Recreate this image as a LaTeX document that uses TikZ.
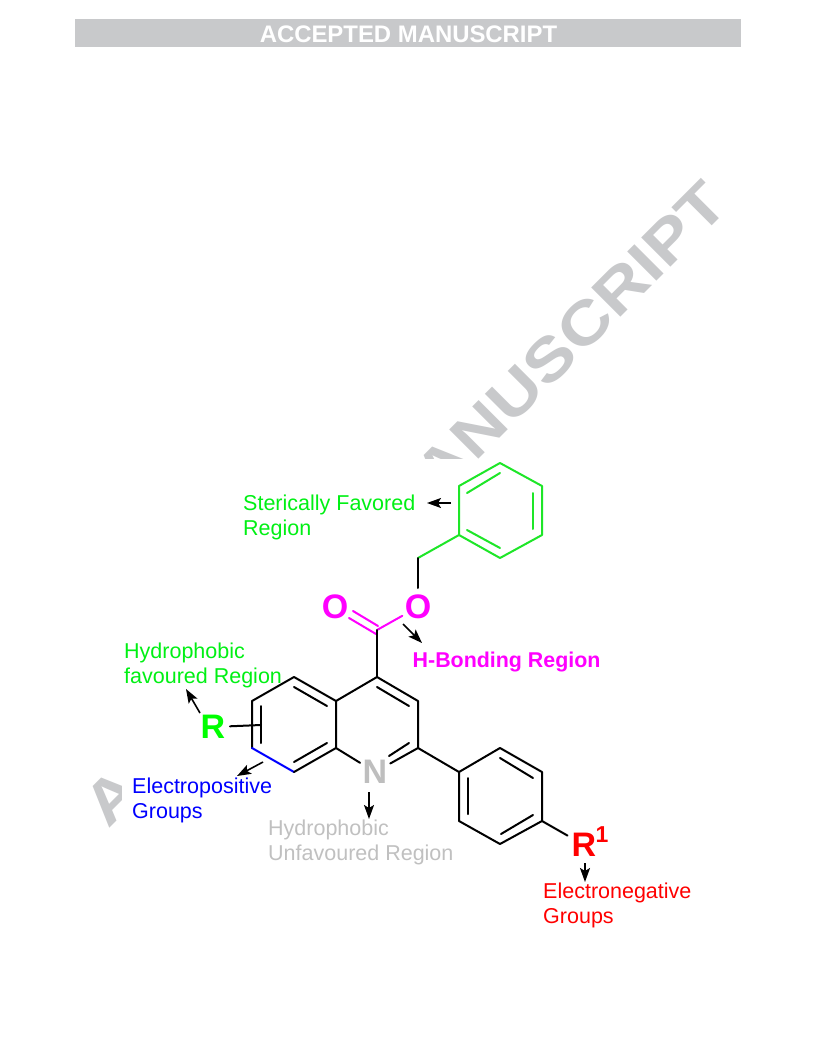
\documentclass[tikz,border=0pt]{standalone}
\usepackage{fontspec}
\setmainfont{Liberation Sans}
\usetikzlibrary{arrows.meta}
\definecolor{wmgray}{RGB}{200,201,203}
\definecolor{ngray}{RGB}{190,190,190}
\definecolor{lblgray}{RGB}{192,192,192}
\definecolor{hgreen}{RGB}{0,240,20}
\definecolor{ringgreen}{RGB}{30,230,40}
\definecolor{hmag}{RGB}{255,0,255}
\tikzset{
  bond/.style={line width=2pt,line cap=round,line join=round,black},
  gbond/.style={bond,draw=ringgreen},
  mbond/.style={bond,draw=hmag},
  bbond/.style={bond,draw=blue},
  ptr/.style={line width=1.6pt,black,-{Stealth[length=14pt,width=10pt,inset=3pt]}},
  lbl/.style={inner sep=0pt,anchor=base west,align=left,font=\fontsize{21.5}{25}\selectfont},
  atomlbl/.style={inner sep=0pt,font=\fontsize{34}{34}\selectfont\bfseries},
}
\begin{document}
\begin{tikzpicture}[x=1pt,y=-1pt]
\useasboundingbox (0,0) rectangle (816,1056);
\fill[white] (0,0) rectangle (816,1056);
% banner
\node[fill=wmgray,minimum width=666pt,minimum height=28pt,inner sep=0pt] (banner) at (408,33.5) {};
\node[inner sep=0pt,white,font=\fontsize{23.9}{24}\selectfont\bfseries] (bantext) at (408.5,34) {ACCEPTED MANUSCRIPT};
% watermark, mostly hidden by the figure
\node[inner sep=0pt,anchor=base,rotate=45,xscale=1.18,transform shape,wmgray,font=\fontsize{60}{60}\selectfont\bfseries] (wm) at (420,518) {ACCEPTED MANUSCRIPT};
\fill[white] (122,459) rectangle (816,1056);
% atoms
\coordinate (P1) at (500,463);\coordinate (P2) at (542,486);\coordinate (P3) at (542,535);
\coordinate (P4) at (500,558);\coordinate (P5) at (459,535);\coordinate (P6) at (459,486);
\coordinate (P1i) at (500,473);\coordinate (P6i) at (467,493);
\coordinate (P2i) at (533,493);\coordinate (P3i) at (533,529);
\coordinate (P5i) at (467,530);\coordinate (P4i) at (500,548);
\coordinate (CH2) at (418,558);
\coordinate (CO) at (377,630);
\coordinate (C4) at (377,677);\coordinate (C3) at (418,701);\coordinate (C2) at (418,748);
\coordinate (C8a) at (336,748);\coordinate (C4a) at (336,701);\coordinate (C5) at (294,677);
\coordinate (C6) at (252,701);\coordinate (C7) at (252,748);\coordinate (C8) at (294,772);
\coordinate (Q1) at (459,772);\coordinate (Q2) at (500,748);\coordinate (Q3) at (542,772);
\coordinate (Q4) at (542,821);\coordinate (Q5) at (500,844);\coordinate (Q6) at (459,821);
% atom labels
\node[atomlbl,hmag] (Oa) at (335,607) {O};
\node[atomlbl,hmag] (Ob) at (418,607) {O};
\node[atomlbl,ngray] (Nq) at (375,772) {N};
\node[atomlbl,green] (Rg) at (213,727) {R};
\node[atomlbl,red] (Rr) at (584,845) {R};
\node[inner sep=0pt,red,font=\fontsize{23}{23}\selectfont\bfseries] (Rsup) at (602,835) {1};
% green phenyl
\draw[gbond] (P1)--(P2)--(P3)--(P4)--(P5)--(P6)--cycle;
\draw[gbond] (P1i)--(P6i);
\draw[gbond] (P2i)--(P3i);
\draw[gbond] (P5i)--(P4i);
\draw[gbond] (P5)--(CH2);
\draw[bond,shorten >=19pt] (CH2)--(Ob.center);
% carboxyl
\draw[mbond,shorten >=18pt] (CO)--(Ob.center);
\coordinate (da1) at (378,626);\coordinate (da2) at (353,611);
\coordinate (db1) at (376,634);\coordinate (db2) at (349,618);
\draw[mbond] (da1)--(da2);
\draw[mbond] (db1)--(db2);
\draw[bond] (CO)--(C4);
% quinoline
\draw[bond] (C8a)--(C4a)--(C5)--(C6)--(C7);
\draw[bbond] (C7)--(C8);
\draw[bond] (C8)--(C8a);
\draw[bond] (C4a)--(C4)--(C3)--(C2);
\draw[bond,shorten >=17.5pt] (C8a)--(Nq.center);
\draw[bond,shorten >=17.5pt] (C2)--(Nq.center);
\coordinate (i1) at (294,687);\coordinate (i2) at (327,706);
\coordinate (i3) at (261,706);\coordinate (i4) at (261,743);
\coordinate (i5) at (294,762);\coordinate (i6) at (327,743);
\coordinate (i7) at (377,687);\coordinate (i8) at (409,706);
\coordinate (i9) at (409,743);\coordinate (i10) at (389,756);
\draw[bond] (i1)--(i2);
\draw[bond] (i3)--(i4);
\draw[bond] (i5)--(i6);
\draw[bond] (i7)--(i8);
\draw[bond] (i9)--(i10);
\coordinate (Rend) at (261,725);
\draw[bond,shorten <=17pt] (Rg.center)--(Rend);
% aryl ring
\draw[bond] (C2)--(Q1);
\draw[bond] (Q1)--(Q2)--(Q3)--(Q4)--(Q5)--(Q6)--cycle;
\coordinate (j1) at (468,778);\coordinate (j2) at (468,814);
\coordinate (j3) at (500,758);\coordinate (j4) at (533,778);
\coordinate (j5) at (501,834);\coordinate (j6) at (533,815);
\draw[bond] (j1)--(j2);
\draw[bond] (j3)--(j4);
\draw[bond] (j5)--(j6);
\draw[bond,shorten >=19pt] (Q4)--(Rr.center);
% labels
\node[lbl,hgreen] (tSter) at (243,535) {Sterically Favored\\Region};
\node[inner sep=0pt,anchor=base west,hmag,font=\fontsize{21.4}{24}\selectfont\bfseries] (tHb) at (412.5,667) {H-Bonding Region};
\node[lbl,hgreen] (tHyd) at (124,683) {Hydrophobic\\favoured Region};
\node[lbl,blue] (tPos) at (132,818) {Electropositive\\Groups};
\node[lbl,lblgray] (tUnf) at (268,860) {Hydrophobic\\Unfavoured Region};
\node[lbl,red] (tNeg) at (543,923) {Electronegative\\Groups};
% pointer arrows
\coordinate (a1s) at (451,503);\coordinate (a1e) at (427,503);
\coordinate (a2s) at (403,624);\coordinate (a2e) at (422,643);
\coordinate (a3s) at (200,713);\coordinate (a3e) at (186,689);
\coordinate (a4s) at (263,762);\coordinate (a4e) at (237,776);
\coordinate (a5s) at (369,792);\coordinate (a5e) at (369,819);
\coordinate (a6s) at (585,863);\coordinate (a6e) at (585,882);
\draw[ptr] (a1s)--(a1e);
\draw[ptr] (a2s)--(a2e);
\draw[ptr] (a3s)--(a3e);
\draw[ptr] (a4s)--(a4e);
\draw[ptr] (a5s)--(a5e);
\draw[ptr] (a6s)--(a6e);
\end{tikzpicture}
\end{document}
